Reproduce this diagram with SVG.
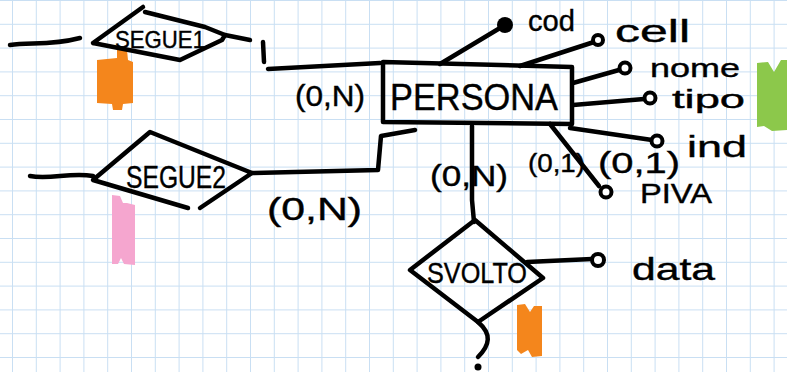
<svg xmlns="http://www.w3.org/2000/svg" width="787" height="372" viewBox="0 0 787 372">
<defs>
<pattern id="grid" patternUnits="userSpaceOnUse" x="12" y="0" width="23.8" height="23.8">
<path d="M0 0V23.8M0 0H23.8" fill="none" stroke="#c9dff3" stroke-width="2"/>
</pattern>
<style>
.s{fill:none;stroke:#000;stroke-width:4.5;stroke-linecap:round;stroke-linejoin:round}
.t{font-family:"Liberation Sans","DejaVu Sans",sans-serif;fill:#000;stroke:#000;stroke-width:0.4}
.a{fill:#fff;stroke:#000;stroke-width:4}
.k{fill:#000}
</style>
</defs>
<rect width="787" height="372" fill="#fff"/>
<rect width="787" height="372" fill="url(#grid)"/>
<g id="highlights">
<path d="M97 60 L117 58 L117 50 L127 50 L128 60 L133 62 L133 103 L123 104 L122 110 L113 110 L112 104 L97 103 Z" fill="#f4861c"/>
<path d="M112 195 L120 196 L123 203 L127 203 L135 205 L135 265 L124 264 L121 258 L118 264 L112 264 Z" fill="#f5a6cf"/>
<path d="M757 63 L768 62 L774 72 L781 60 L787 60 L787 130 L772 131 L764 126 L757 127 Z" fill="#8cc84b"/>
<path d="M517 305 L525 304 L530 312 L534 306 L542 306 L542 356 L532 357 L528 350 L521 354 L517 350 Z" fill="#f4861c"/>
</g>
<g id="connectors">
<path class="s" d="M10 45 C30 42 50 46 80 38"/>
<path class="s" d="M225 35 L250 40"/>
<path class="s" d="M263 42 L264 62"/>
<path class="s" d="M268 69 L380 63"/>
<path class="s" d="M30 176 C50 180 70 172 93 176"/>
<path class="s" d="M252 173 L378 170 L381 136 L415 130"/>
<path class="s" d="M472 126 L472 200 L474 222"/>
<path class="s" d="M550 124 L599 186"/>
<path class="s" d="M440 64 L500 28"/>
<path class="s" d="M520 66 L594 42"/>
<path class="s" d="M573 83 L619 70"/>
<path class="s" d="M573 105 L644 99"/>
<path class="s" d="M570 128 L652 140"/>
<path class="s" d="M527 262 L592 259"/>
<path class="s" d="M478 322 C492 334 490 345 478 357"/>
<circle class="k" cx="478" cy="367" r="3.5"/>
<text class="t" x="295" y="106" font-size="30" textLength="70" lengthAdjust="spacingAndGlyphs">(0,N)</text>
<text class="t" x="267" y="220" font-size="32" textLength="95" lengthAdjust="spacingAndGlyphs">(0,N)</text>
<text class="t" x="430" y="186" font-size="30" textLength="78" lengthAdjust="spacingAndGlyphs">(0,N)</text>
<text class="t" x="528" y="172" font-size="26" textLength="57" lengthAdjust="spacingAndGlyphs">(0,1)</text>
<text class="t" x="598" y="173" font-size="30" textLength="82" lengthAdjust="spacingAndGlyphs">(0,1)</text>
</g>
<g id="SEGUE1">
<path class="s" d="M93 43 L143 7 M145 12 L205 27 L225 35 L222 40 L180 60 L93 43"/>
<text class="t" x="160" y="48" font-size="24" text-anchor="middle" textLength="90" lengthAdjust="spacingAndGlyphs">SEGUE1</text>
</g>
<g id="SEGUE2">
<path class="s" d="M188 208 L93 180 L150 132 L252 173 L200 208"/>
<text class="t" x="176" y="188" font-size="32" text-anchor="middle" textLength="100" lengthAdjust="spacingAndGlyphs">SEGUE2</text>
</g>
<g id="PERSONA">
<path class="s" d="M383 62 L572 67 L572 124 L383 122 Z"/>
<text class="t" x="474" y="110" font-size="36" text-anchor="middle" textLength="168" lengthAdjust="spacingAndGlyphs">PERSONA</text>
</g>
<g id="SVOLTO">
<path class="s" d="M475 220 L543 278 L478 322 L410 270 Z"/>
<text class="t" x="477" y="283" font-size="30" text-anchor="middle" textLength="100" lengthAdjust="spacingAndGlyphs">SVOLTO</text>
</g>
<g id="cod">
<circle class="k" cx="505" cy="25" r="8"/>
<text class="t" x="528" y="31" font-size="30" textLength="47" lengthAdjust="spacingAndGlyphs">cod</text>
</g>
<g id="cell">
<circle class="a" cx="598" cy="40" r="5"/>
<text class="t" x="615" y="42" font-size="32" textLength="75" lengthAdjust="spacingAndGlyphs">cell</text>
</g>
<g id="nome">
<circle class="a" cx="625" cy="68" r="5.5"/>
<text class="t" x="650" y="77" font-size="26" textLength="90" lengthAdjust="spacingAndGlyphs">nome</text>
</g>
<g id="tipo">
<circle class="a" cx="650" cy="98" r="5.5"/>
<text class="t" x="672" y="108" font-size="26" textLength="73" lengthAdjust="spacingAndGlyphs">tipo</text>
</g>
<g id="ind">
<circle class="a" cx="657" cy="141" r="5.5"/>
<text class="t" x="687" y="157" font-size="30" textLength="60" lengthAdjust="spacingAndGlyphs">ind</text>
</g>
<g id="PIVA">
<circle class="a" cx="606" cy="192" r="5.5"/>
<text class="t" x="640" y="203" font-size="27" textLength="72" lengthAdjust="spacingAndGlyphs">PIVA</text>
</g>
<g id="data">
<circle class="a" cx="598" cy="260" r="6"/>
<text class="t" x="632" y="280" font-size="32" textLength="83" lengthAdjust="spacingAndGlyphs">data</text>
</g>
</svg>
